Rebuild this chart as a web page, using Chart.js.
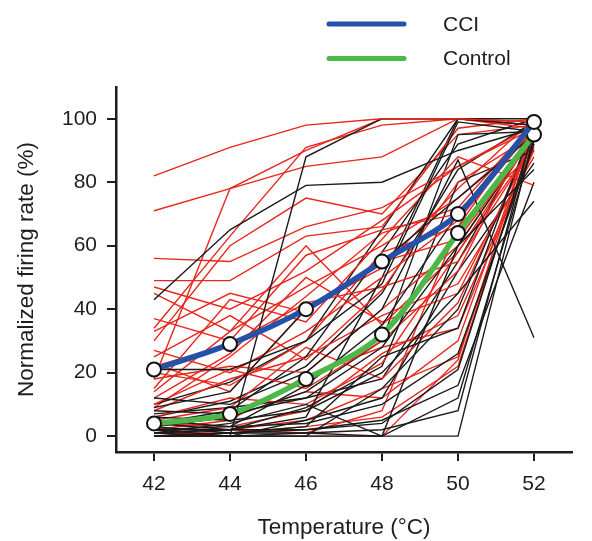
<!DOCTYPE html>
<html>
<head>
<meta charset="utf-8">
<script src="https://cdn.jsdelivr.net/npm/chart.js@4.4.1/dist/chart.umd.min.js"></script>
<style>
  html, body { margin: 0; padding: 0; background: #fff; }
</style>
</head>
<body>
<canvas id="myChart" width="592" height="541"></canvas>
<script>
var temps = [42, 44, 46, 48, 50, 52];
var xTicks = [42, 44, 46, 48, 50, 52];
var yTicks = [0, 20, 40, 60, 80, 100];
var seriesNames = ['CCI', 'Control'];
var cciMean = [21, 29, 40, 55, 70, 99];
var controlMean = [4, 7, 18, 32, 64, 95];

// single cells, one row per neuron (approx.)
var cciCells = [
  [82, 91, 98, 100, 100, 99],
  [71, 78, 85, 88, 100, 98],
  [18, 78, 90, 100, 100, 97],
  [56, 55, 66, 72, 85, 97],
  [49, 49, 63, 66, 97, 100],
  [47, 40, 52, 68, 85, 98],
  [45, 33, 47, 60, 75, 96],
  [37, 30, 57, 65, 70, 99],
  [33, 45, 39, 55, 62, 94],
  [27, 20, 33, 50, 68, 97],
  [25, 38, 24, 46, 80, 95],
  [22, 29, 42, 47, 55, 92],
  [20, 16, 30, 58, 66, 90],
  [18, 22, 20, 40, 60, 95],
  [15, 43, 36, 62, 88, 79],
  [12, 26, 50, 36, 45, 93],
  [10, 21, 15, 30, 52, 99],
  [8, 18, 25, 38, 48, 88],
  [6, 12, 10, 23, 58, 92],
  [5, 9, 28, 18, 42, 95],
  [4, 3, 8, 26, 38, 90],
  [3, 6, 14, 12, 30, 97],
  [2, 2, 5, 15, 25, 93],
  [1, 1, 3, 6, 22, 96],
  [0, 0, 0, 0, 24, 98],
  [0, 2, 1, 8, 66, 100],
  [30, 60, 75, 70, 95, 98],
  [23, 14, 40, 53, 78, 100],
  [14, 33, 60, 35, 58, 95],
  [9, 25, 44, 64, 72, 99],
  [34, 63, 91, 98, 100, 99],
  [2, 5, 19, 28, 34, 91]
];
var controlCells = [
  [43, 65, 79, 80, 90, 97],
  [0, 0, 88, 100, 100, 98],
  [21, 21, 30, 48, 99, 96],
  [12, 10, 20, 40, 87, 31],
  [9, 14, 40, 55, 75, 95],
  [8, 7, 12, 28, 60, 84],
  [6, 5, 8, 20, 45, 74],
  [5, 3, 4, 10, 26, 92],
  [4, 2, 2, 4, 21, 96],
  [3, 1, 1, 0, 0, 95],
  [2, 0, 0, 0, 12, 93],
  [2, 3, 16, 35, 70, 99],
  [1, 2, 6, 50, 100, 98],
  [1, 4, 10, 0, 60, 95],
  [0, 0, 1, 2, 8, 97],
  [0, 1, 3, 25, 34, 99],
  [0, 0, 0, 15, 40, 97],
  [4, 8, 25, 58, 92, 100],
  [3, 6, 14, 30, 95, 96],
  [2, 2, 9, 22, 80, 90],
  [1, 0, 5, 12, 52, 86],
  [6, 11, 22, 45, 84, 99],
  [0, 1, 2, 5, 16, 80],
  [7, 9, 12, 18, 55, 97],
  [10, 17, 30, 65, 100, 100]
];

var FONT = '"Liberation Sans", Arial, sans-serif';
var INK = '#1e1e1e';

function pts(row) {
  return temps.map(function(t, i) { return { x: t, y: row[i] }; });
}

function meanSet(label, row, color) {
  return {
    label: label,
    data: pts(row),
    borderColor: color,
    borderWidth: 5.5,
    tension: 0.3,
    pointRadius: 7,
    pointBorderWidth: 2,
    pointBackgroundColor: '#fff',
    pointBorderColor: '#111',
    order: 0
  };
}

function cellSet(row, color, w) {
  return {
    label: '',
    data: pts(row),
    borderColor: color,
    borderWidth: w,
    tension: 0,
    pointRadius: 0,
    order: 1
  };
}

var datasets = [
  meanSet(seriesNames[0], cciMean, '#2352a8'),
  meanSet(seriesNames[1], controlMean, '#4cb848')
];
var n = Math.max(cciCells.length, controlCells.length);
for (var i = 0; i < n; i++) {
  if (controlCells[i]) datasets.push(cellSet(controlCells[i], '#1a1a1a', 1.4));
  if (cciCells[i]) datasets.push(cellSet(cciCells[i], '#e8261c', 1.4));
}

var sideLegend = {
  id: 'sideLegend',
  afterDraw: function(chart) {
    var ctx = chart.ctx;
    ctx.save();
    ctx.lineCap = 'round';
    ctx.lineWidth = 5;
    ctx.font = '21px ' + FONT;
    ctx.textBaseline = 'middle';
    ctx.textAlign = 'left';
    ctx.fillStyle = INK;
    for (var k = 0; k < 2; k++) {
      var ds = chart.data.datasets[k];
      var y = 24 + k * 34.5;
      ctx.strokeStyle = ds.borderColor;
      ctx.beginPath();
      ctx.moveTo(329, y);
      ctx.lineTo(404, y);
      ctx.stroke();
      ctx.fillText(ds.label, 443, y + 1);
    }
    ctx.restore();
  }
};

var ctx = document.getElementById('myChart').getContext('2d');
var myChart = new Chart(ctx, {
  type: 'line',
  data: { datasets: datasets },
  plugins: [sideLegend],
  options: {
    responsive: false,
    animation: false,
    layout: { padding: { top: 87, right: 20, left: 0, bottom: 0 } },
    plugins: {
      legend: { display: false },
      tooltip: { enabled: false }
    },
    scales: {
      x: {
        type: 'linear',
        min: 41,
        max: 53,
        afterBuildTicks: function(axis) {
          axis.ticks = xTicks.map(function(v) { return { value: v }; });
        },
        afterFit: function(scale) { scale.height = 89; },
        grid: { drawOnChartArea: false, drawTicks: true, tickLength: 9, color: INK, lineWidth: 2 },
        border: { display: true, color: INK, width: 2.5 },
        ticks: { color: INK, padding: 11, font: { family: FONT, size: 21 } },
        title: {
          display: true,
          text: 'Temperature (°C)',
          color: INK,
          padding: { top: 0, bottom: 0 },
          font: { family: FONT, size: 22.5 }
        }
      },
      y: {
        min: -5,
        max: 110,
        afterBuildTicks: function(axis) {
          axis.ticks = yTicks.map(function(v) { return { value: v }; });
        },
        afterFit: function(scale) { scale.width = 116; },
        grid: { drawOnChartArea: false, drawTicks: true, tickLength: 9, color: INK, lineWidth: 2 },
        border: { display: true, color: INK, width: 2.5 },
        ticks: { color: INK, padding: 10, font: { family: FONT, size: 21 } },
        title: {
          display: true,
          text: 'Normalized firing rate (%)',
          color: INK,
          padding: { top: 13, bottom: 13 },
          font: { family: FONT, size: 22.5 }
        }
      }
    }
  }
});
</script>
</body>
</html>
